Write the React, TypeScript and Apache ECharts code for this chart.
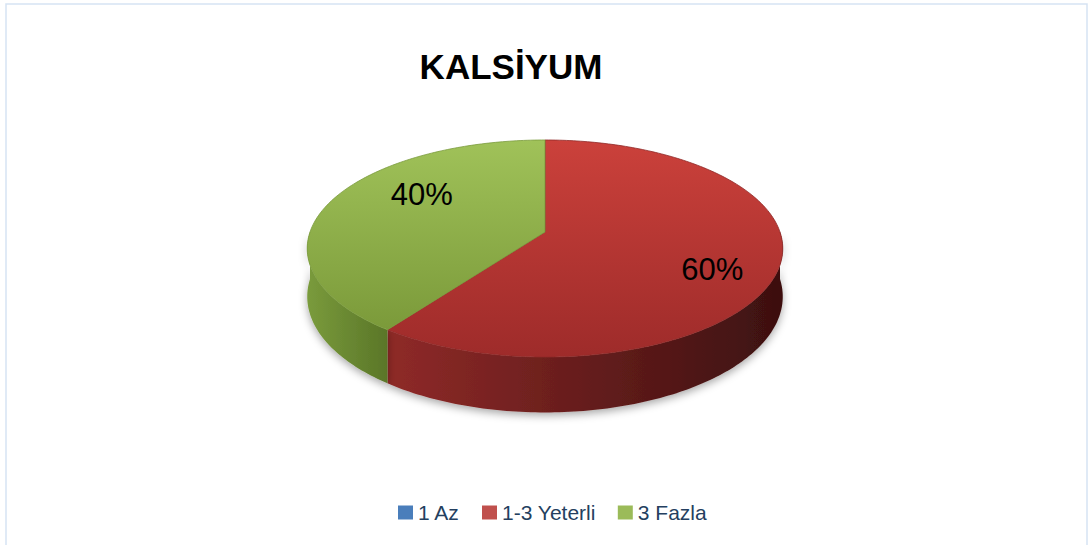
import React, { useEffect, useRef } from 'react';
import * as echarts from 'echarts';

const titleText = 'KALSİYUM';
const categories = ['1 Az', '1-3 Yeterli', '3 Fazla'];
const values = [0, 60, 40];
const legendColors = ['#4a7ebb', '#c0504d', '#9bbb59'];
const topColors = [
  ['#5b8fd0', '#3a6aa8'],
  ['#cb413b', '#9e2b2a'],
  ['#a0c259', '#7b9a3a'],
];
const sideColors = [
  ['#3d6ba6', '#23426b'],
  ['#8f2a28', '#3c1010'],
  ['#7a9b3c', '#5a7628'],
];

// pie geometry (style)
const CX = 545;
const CY = 232;
const RX = 235;
const RY = 106;
const PERSP = 0.152;
const DEPTH = 47;
const LABEL_FX = 0.65;
const LABEL_FY = 1.16;
const LABEL_DX = 22;

const total = values.reduce((a, b) => a + b, 0);
const cumulative: number[][] = [];
{
  let acc = 0;
  values.forEach((v) => {
    cumulative.push([acc, acc + v]);
    acc += v;
  });
}

function proj(a: number, drop: number) {
  const t = Math.cos(a);
  const s = 1 / (1 + PERSP * t);
  return [CX + RX * Math.sin(a) * s, CY - RY * t * s + drop * s];
}

function arcPts(a0: number, a1: number, drop: number) {
  const pts: number[][] = [];
  const n = Math.max(2, Math.ceil(((a1 - a0) * 180) / Math.PI));
  for (let i = 0; i <= n; i++) {
    const a = a0 + ((a1 - a0) * i) / n;
    pts.push(proj(a, drop));
  }
  return pts;
}

function makeRenderItem(idx: number) {
  return (params: any, api: any) => {
    const start = api.value(0);
    const end = api.value(1);
    const children: any[] = [];
    if (end - start <= 0) return { type: 'group', children };
    const a0 = (start / total) * Math.PI * 2;
    const a1 = (end / total) * Math.PI * 2;
    const s0 = Math.max(a0, Math.PI / 2);
    const s1 = Math.min(a1, (Math.PI * 3) / 2);
    if (s1 > s0) {
      const topArc = arcPts(s0, s1, 0);
      const botArc = arcPts(s0, s1, DEPTH).reverse();
      children.push({
        type: 'polygon',
        z2: 1,
        shape: { points: topArc.concat(botArc) },
        style: {
          fill: {
            type: 'linear', x: 0, y: 0, x2: 1, y2: 0,
            colorStops: [
              { offset: 0, color: sideColors[idx][0] },
              { offset: 1, color: sideColors[idx][1] },
            ],
          },
          shadowBlur: 8,
          shadowOffsetY: 3,
          shadowColor: 'rgba(0,0,0,0.35)',
        },
      });
    }
    const topPts = [[CX, CY]].concat(arcPts(a0, a1, 0));
    children.push({
      type: 'polygon',
      z2: 10,
      shape: { points: topPts },
      style: {
        fill: {
          type: 'linear', x: 0, y: 0, x2: 0, y2: 1,
          colorStops: [
            { offset: 0, color: topColors[idx][0] },
            { offset: 1, color: topColors[idx][1] },
          ],
        },
        stroke: sideColors[idx][0],
        lineWidth: 0.8,
      },
    });
    const mid = (a0 + a1) / 2;
    const pct = Math.round(((end - start) / total) * 100) + '%';
    children.push({
      type: 'text',
      z2: 20,
      style: {
        text: pct,
        x: CX + RX * Math.sin(mid) * LABEL_FX + LABEL_DX,
        y: CY - RY * Math.cos(mid) * LABEL_FY,
        fill: '#000',
        fontSize: 31,
        fontFamily: 'Liberation Sans',
        align: 'center',
        verticalAlign: 'middle',
      },
    });
    return { type: 'group', children };
  };
}

export default function App() {
  const ref = useRef<HTMLDivElement>(null);
  useEffect(() => {
    const chart = echarts.init(ref.current!, undefined, { renderer: 'svg' });
    chart.setOption({
      animation: false,
      backgroundColor: '#fff',
      legend: {
        data: categories,
        left: 398,
        top: 502,
        padding: 0,
        icon: 'rect',
        itemWidth: 15,
        itemHeight: 14,
        itemGap: 22,
        selectedMode: false,
        textStyle: { fontSize: 21, color: '#243f60', fontFamily: 'Liberation Sans' },
      },
      graphic: [
        {
          type: 'rect',
          shape: { x: 6, y: 4, width: 1081, height: 600 },
          style: { fill: 'none', stroke: '#d6e3f3', lineWidth: 1.5 },
          silent: true,
        },
        {
          type: 'text',
          style: {
            text: titleText,
            x: 511,
            y: 66,
            fill: '#000',
            fontSize: 35,
            fontWeight: 'bold',
            fontFamily: 'Liberation Sans',
            align: 'center',
            verticalAlign: 'middle',
          },
        },
      ],
      series: categories.map((name, i) => ({
        type: 'custom',
        name,
        coordinateSystem: 'none',
        itemStyle: { color: legendColors[i] },
        renderItem: makeRenderItem(i),
        data: [cumulative[i]],
      })),
    });
    return () => chart.dispose();
  }, []);
  return (
    <div
      ref={ref}
      style={{ position: 'fixed', left: 0, top: 0, width: 1088, height: 545 }}
    />
  );
}
